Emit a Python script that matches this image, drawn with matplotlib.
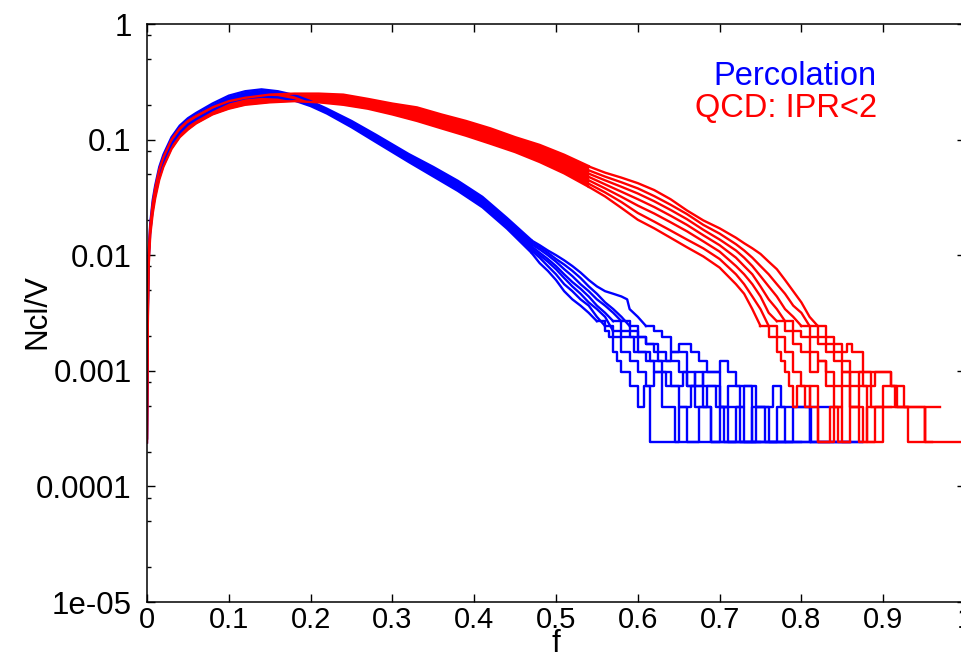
import matplotlib
matplotlib.use('Agg')
import numpy as np
import matplotlib.pyplot as plt
from matplotlib.ticker import NullFormatter

plt.rcParams['font.family'] = ['Liberation Sans', 'DejaVu Sans']

# lattice volume: tail values are cluster counts, Ncl/V = count / volume
volume = 4096

# main body of the distributions (band of all runs, lower / upper edge)
perc_f = [0, 0.001, 0.002, 0.004, 0.007, 0.01, 0.015, 0.02, 0.03, 0.04, 0.05, 0.06, 0.08, 0.10,
          0.12, 0.14, 0.16, 0.18, 0.20, 0.22, 0.25, 0.28, 0.32, 0.35, 0.38, 0.41, 0.44, 0.47]
perc_hi = [2.6e-4, 0.0037, 0.0105, 0.019, 0.030, 0.040, 0.058, 0.074, 0.105, 0.132, 0.153, 0.17, 0.205, 0.24,
           0.262, 0.272, 0.262, 0.243, 0.215, 0.185, 0.145, 0.11, 0.075, 0.058, 0.044, 0.032, 0.021, 0.0135]
perc_lo = [2.4e-4, 0.003, 0.009, 0.016, 0.025, 0.034, 0.05, 0.064, 0.092, 0.115, 0.135, 0.15, 0.18, 0.21,
           0.228, 0.235, 0.232, 0.218, 0.195, 0.168, 0.128, 0.095, 0.064, 0.048, 0.036, 0.026, 0.017, 0.0105]

qcd_f = [0, 0.001, 0.002, 0.004, 0.007, 0.01, 0.015, 0.02, 0.03, 0.04, 0.05, 0.06, 0.08, 0.10, 0.12,
         0.15, 0.18, 0.21, 0.24, 0.27, 0.30, 0.33, 0.36, 0.39, 0.42, 0.45, 0.48, 0.51, 0.54]
qcd_hi = [2.6e-4, 0.0035, 0.010, 0.018, 0.028, 0.038, 0.055, 0.07, 0.10, 0.125, 0.145, 0.16, 0.19, 0.215, 0.23,
          0.245, 0.25, 0.25, 0.245, 0.225, 0.205, 0.19, 0.165, 0.145, 0.125, 0.105, 0.09, 0.074, 0.059]
qcd_lo = [2.4e-4, 0.0025, 0.008, 0.015, 0.023, 0.031, 0.045, 0.058, 0.083, 0.105, 0.122, 0.138, 0.165, 0.185, 0.20,
          0.21, 0.215, 0.21, 0.20, 0.185, 0.165, 0.145, 0.125, 0.108, 0.092, 0.078, 0.064, 0.051, 0.039]

# tails of the single runs: (f, cluster count)
perc_tails = [
    ([.47, .48, .49, .50, .51, .52, .53, .54, .55, .56, .565, .57, .575, .58, .59, .60, .608, .615, .65, .66, .70, .705, .75],
     [43, 35, 30, 25, 20, 17, 15, 13, 11, 9, 8, 6, 5, 4, 3, 2, 3, 1, 2, 1, 2, 1, 1]),
    ([.47, .48, .49, .50, .51, .52, .53, .54, .55, .56, .57, .58, .59, .60, .61, .62, .63, .645, .675, .69, .72, .73, .78],
     [45, 39, 33, 28, 23, 20, 17, 15, 12, 10, 8, 6, 5, 4, 3, 4, 2, 1, 2, 1, 2, 1, 1]),
    ([.47, .48, .49, .50, .51, .52, .53, .54, .55, .56, .57, .58, .595, .61, .62, .635, .65, .665, .68, .69, .745, .755, .80],
     [47, 41, 36, 31, 26, 22, 19, 16, 14, 12, 9, 8, 6, 5, 4, 3, 2, 3, 2, 1, 2, 1, 1]),
    ([.47, .48, .49, .50, .51, .52, .53, .54, .55, .56, .57, .58, .59, .60, .615, .63, .64, .655, .67, .685, .70, .71, .74, .76, .812, .84],
     [49, 43, 38, 33, 28, 24, 21, 18, 15, 13, 11, 9, 8, 6, 5, 4, 3, 4, 2, 3, 2, 1, 2, 1, 2, 2]),
    ([.47, .48, .49, .50, .51, .52, .53, .54, .55, .56, .57, .58, .59, .60, .61, .62, .635, .65, .66, .67, .68, .695, .71, .725, .79, .81, .86],
     [51, 46, 41, 36, 31, 27, 23, 20, 17, 15, 13, 11, 9, 8, 7, 6, 5, 4, 3, 4, 3, 2, 3, 1, 2, 1, 1]),
    ([.47, .48, .49, .50, .51, .52, .53, .54, .55, .56, .57, .58, .59, .60, .61, .625, .64, .66, .68, .70, .73, .74, .77, .78, .874],
     [53, 48, 43, 38, 34, 30, 26, 22, 19, 16, 14, 12, 10, 8, 7, 5, 6, 3, 4, 2, 3, 1, 2, 1, 1]),
    ([.47, .48, .49, .50, .51, .52, .53, .54, .55, .56, .57, .58, .587, .59, .60, .61, .62, .63, .64, .65, .665, .675, .685, .70, .71, .72, .745, .765, .775, .81, .874],
     [55, 50, 45, 41, 37, 33, 29, 25, 22, 20, 19, 18, 17, 14, 12, 10, 9, 8, 6, 7, 6, 5, 4, 5, 4, 3, 2, 3, 2, 1, 1]),
]

qcd_tails = [
    ([.54, .56, .58, .60, .62, .64, .66, .68, .70, .72, .73, .74, .75, .76, .77, .775, .78, .785, .79, .795, .81, .82, .835, .85, .86],
     [160, 132, 105, 83, 70, 58, 48, 40, 32, 23, 19, 14, 10, 8, 6, 5, 4, 3, 2, 3, 2, 1, 2, 1, 1]),
    ([.54, .56, .58, .60, .62, .64, .66, .68, .70, .72, .73, .74, .75, .76, .77, .78, .79, .80, .805, .81, .82, .84, .845, .86, .87, .88, .90],
     [170, 143, 118, 95, 80, 67, 56, 47, 38, 28, 23, 18, 14, 10, 8, 6, 4, 3, 2, 3, 1, 2, 1, 2, 1, 2, 2]),
    ([.54, .56, .58, .60, .62, .64, .66, .68, .70, .72, .73, .74, .75, .76, .77, .78, .79, .80, .81, .82, .83, .84, .85, .86, .875, .89, .91],
     [182, 155, 131, 110, 94, 79, 66, 54, 44, 33, 28, 23, 18, 13, 11, 9, 7, 6, 4, 5, 3, 2, 3, 2, 1, 2, 2]),
    ([.54, .56, .58, .60, .62, .64, .66, .68, .70, .72, .73, .74, .75, .76, .77, .78, .79, .80, .81, .82, .83, .84, .85, .86, .87, .88, .90, .93],
     [195, 168, 145, 125, 107, 90, 75, 61, 50, 39, 33, 28, 22, 17, 14, 11, 9, 8, 6, 5, 4, 3, 4, 2, 3, 1, 2, 2]),
    ([.54, .56, .58, .60, .62, .64, .66, .68, .70, .72, .73, .74, .75, .76, .77, .78, .79, .80, .81, .82, .83, .84, .85, .86, .87, .885, .90, .915, .93, .951, .97],
     [208, 182, 160, 140, 120, 101, 84, 68, 56, 45, 39, 33, 27, 22, 18, 14, 12, 10, 8, 7, 6, 5, 4, 3, 4, 2, 3, 2, 1, 2, 2]),
    ([.54, .56, .58, .60, .62, .64, .66, .68, .70, .72, .73, .74, .75, .76, .77, .78, .79, .80, .81, .82, .83, .84, .85, .86, .875, .89, .91, .925, .951, .96],
     [222, 196, 175, 155, 133, 112, 93, 75, 63, 51, 45, 39, 33, 28, 23, 19, 15, 13, 10, 8, 7, 6, 5, 4, 3, 4, 3, 2, 1, 1]),
    ([.54, .56, .58, .60, .62, .64, .66, .68, .70, .72, .73, .74, .75, .76, .77, .78, .79, .80, .81, .82, .83, .84, .85, .856, .862, .875, .895, .91, .917, .951, 1.0],
     [240, 212, 192, 172, 150, 125, 100, 82, 70, 58, 52, 47, 42, 36, 31, 25, 20, 16, 12, 10, 8, 7, 6, 7, 6, 4, 4, 3, 2, 1, 1]),
]

xtick_vals = [0, 0.1, 0.2, 0.3, 0.4, 0.5, 0.6, 0.7, 0.8, 0.9, 1.0]
xtick_labels = ['0', '0.1', '0.2', '0.3', '0.4', '0.5', '0.6', '0.7', '0.8', '0.9', '1']
ytick_vals = [1e-5, 1e-4, 1e-3, 1e-2, 1e-1, 1]
ytick_labels = ['1e-05', '0.0001', '0.001', '0.01', '0.1', '1']
yminor_vals = [2e-5, 5e-5, 8e-5, 2e-4, 5e-4, 8e-4, 2e-3, 5e-3, 8e-3, 2e-2, 5e-2, 8e-2, 0.2, 0.5, 0.8]

blue = '#0000ff'
red = '#ff0000'
lw = 1.7
step_below = 12  # counts below this are drawn as histogram steps


def draw_tail(ax, f, n, color):
    f = np.array(f)
    y = np.array(n) / volume
    k = int(np.argmax(np.array(n) < step_below))
    ax.plot(f[:k + 1], y[:k + 1], color=color, lw=lw)
    ax.plot(f[k:], y[k:], color=color, lw=lw, drawstyle='steps-post')


fig = plt.figure(figsize=(9.62, 6.57), dpi=100)
ax = fig.add_axes([147 / 962, 55 / 657, 818 / 962, 578 / 657])

# percolation runs
ax.fill_between(perc_f, perc_lo, perc_hi, color=blue, lw=0)
ax.plot(perc_f, perc_hi, color=blue, lw=lw)
ax.plot(perc_f, perc_lo, color=blue, lw=lw)
for f, n in perc_tails:
    draw_tail(ax, f, n, blue)

# QCD runs
ax.fill_between(qcd_f, qcd_lo, qcd_hi, color=red, lw=0)
ax.plot(qcd_f, qcd_hi, color=red, lw=lw)
ax.plot(qcd_f, qcd_lo, color=red, lw=lw)
for f, n in qcd_tails:
    draw_tail(ax, f, n, red)

ax.set_yscale('log')
ax.set_xlim(0, 1)
ax.set_ylim(1e-5, 1)
ax.set_xticks(xtick_vals, labels=xtick_labels)
ax.set_yticks(ytick_vals, labels=ytick_labels)
ax.set_yticks(yminor_vals, minor=True)
ax.yaxis.set_minor_formatter(NullFormatter())
ax.tick_params(which='both', direction='in', top=True, right=True, width=1)
ax.tick_params(which='major', length=5.8)
ax.tick_params(which='minor', length=2.9)
ax.tick_params(axis='x', which='minor', bottom=False, top=False)
ax.tick_params(axis='x', labelsize=21, pad=3)
ax.tick_params(axis='y', labelsize=22.5, pad=11)
for sp in ax.spines.values():
    sp.set_linewidth(1.1)

ax.text(0.892, 0.8945, 'Percolation', color=blue, fontsize=23.5, ha='right', va='baseline',
        transform=ax.transAxes)
ax.text(0.892, 0.839, 'QCD: IPR<2', color=red, fontsize=23.5, ha='right', va='baseline',
        transform=ax.transAxes)

fig.text(37 / 962, 1 - 312 / 657, 'Ncl/V', rotation=90, fontsize=22.5, ha='center', va='center')
fig.text(556 / 962, 1 - 644 / 657, 'f', fontsize=22.5, ha='center', va='center')

fig.savefig('out.png', dpi=100)
